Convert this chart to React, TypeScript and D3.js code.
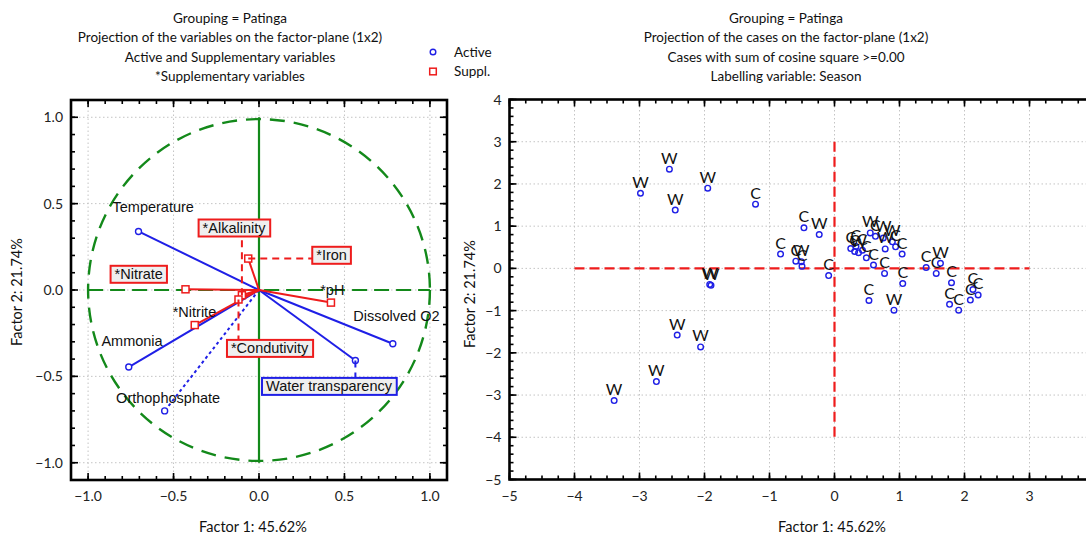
import { useEffect, useRef } from "react";
import * as d3 from "d3";

const W = 1086;
const H = 533;

// ---- variables plot (factor loadings) ----
const varNames = [
  "Temperature", "Dissolved O2", "Water transparency", "Ammonia", "Orthophosphate",
  "*Nitrate", "*Nitrite", "*pH", "*Iron", "*Alkalinity", "*Condutivity",
];
const varKind = ["active", "active", "active", "active", "active", "suppl", "suppl", "suppl", "suppl", "suppl", "suppl"];
const varF1 = [-0.705, 0.783, 0.564, -0.762, -0.552, -0.43, -0.376, 0.421, -0.063, -0.1, -0.12];
const varF2 = [0.339, -0.311, -0.408, -0.446, -0.7, 0.004, -0.203, -0.073, 0.182, -0.03, -0.055];
// where each label sits (data units: text start, baseline)
const labelF1 = [-0.857, 0.552, 0.041, -0.922, -0.836, -0.845, -0.505, 0.358, 0.335, -0.33, -0.164];
const labelF2 = [0.45, -0.181, -0.587, -0.326, -0.657, 0.062, -0.158, -0.03, 0.172, 0.33, -0.367];

// ---- cases plot (factor scores, labelled by season) ----
const caseF1 = [
  -2.985, -2.54, -2.45, -1.95, -1.215, -1.92, -1.9, -2.42, -2.06, -2.74, -3.39,
  -0.47, -0.235, -0.83, -0.595, -0.51, -0.5, -0.09,
  0.25, 0.31, 0.37, 0.43, 0.33, 0.49, 0.55, 0.63, 0.75, 0.6, 0.77, 0.89, 0.94, 1.04, 0.78,
  0.53, 1.05, 0.915, 1.41, 1.565, 1.63, 1.8, 1.77, 1.91, 2.09, 2.13, 2.21,
];
const caseF2 = [
  1.78, 2.35, 1.38, 1.9, 1.52, -0.38, -0.4, -1.58, -1.86, -2.68, -3.13,
  0.96, 0.8, 0.34, 0.17, 0.16, 0.05, -0.17,
  0.47, 0.4, 0.37, 0.43, 0.52, 0.25, 0.84, 0.76, 0.72, 0.08, -0.12, 0.63, 0.51, 0.34, 0.46,
  -0.76, -0.36, -0.99, 0.02, -0.12, 0.12, -0.34, -0.85, -0.99, -0.75, -0.5, -0.63,
];
const caseSeason = [
  "W", "W", "W", "W", "C", "W", "W", "W", "W", "W", "W",
  "C", "W", "C", "C", "W", "C", "C",
  "C", "C", "W", "C", "C", "C", "W", "C", "W", "C", "C", "W", "C", "C", "W",
  "C", "C", "W", "C", "C", "W", "C", "C", "C", "C", "C", "C",
];

const leftTicks = [-1.0, -0.5, 0.0, 0.5, 1.0];
const rightTicks = [-5, -4, -3, -2, -1, 0, 1, 2, 3, 4];

const leftTitle = [
  "Grouping = Patinga",
  "Projection of the variables on the factor-plane (1x2)",
  "Active and Supplementary variables",
  "*Supplementary variables",
];
const rightTitle = [
  "Grouping = Patinga",
  "Projection of the cases on the factor-plane (1x2)",
  "Cases with sum of cosine square >=0.00",
  "Labelling variable: Season",
];
const legendItems = ["Active", "Suppl."];

const BLUE = "#1f1fe6";
const RED = "#ee1c1c";
const GREEN = "#13891a";
const UI_FONT = "Lato, 'Open Sans', sans-serif";
const LABEL_FONT = "'Liberation Sans', Arial, sans-serif";

const boxed = new Set(["Water transparency", "*Nitrate", "*Iron", "*Alkalinity", "*Condutivity"]);
const leader = new Set(["Water transparency", "*Iron", "*Alkalinity", "*Condutivity"]);

type Sel = d3.Selection<SVGSVGElement, unknown, null, undefined>;

function grid(svg: Sel, x: d3.ScaleLinear<number, number>, y: d3.ScaleLinear<number, number>, xs: number[], ys: number[]) {
  const [x0, x1] = x.range();
  const [y0, y1] = y.range();
  const g = svg.append("g").attr("stroke", "#c4c4c4").attr("stroke-width", 1).attr("stroke-dasharray", "1.5 2.5");
  xs.forEach(v => g.append("line").attr("x1", x(v)).attr("x2", x(v)).attr("y1", y0).attr("y2", y1));
  ys.forEach(v => g.append("line").attr("y1", y(v)).attr("y2", y(v)).attr("x1", x0).attr("x2", x1));
}

function frame(
  svg: Sel, x: d3.ScaleLinear<number, number>, y: d3.ScaleLinear<number, number>,
  xMajor: number[], xMinor: number[], yMajor: number[], yMinor: number[], fmt: (n: number) => string
) {
  const [x0, x1] = x.range();
  const [y0, y1] = y.range();
  const g = svg.append("g").attr("stroke", "#000");
  const tick = (v: number, len: number) => {
    g.append("line").attr("x1", x(v)).attr("x2", x(v)).attr("y1", y0).attr("y2", y0 - len).attr("stroke-width", 1.6);
    g.append("line").attr("x1", x(v)).attr("x2", x(v)).attr("y1", y1).attr("y2", y1 + len).attr("stroke-width", 1.6);
  };
  const tickY = (v: number, len: number) => {
    g.append("line").attr("y1", y(v)).attr("y2", y(v)).attr("x1", x0).attr("x2", x0 + len).attr("stroke-width", 1.6);
    g.append("line").attr("y1", y(v)).attr("y2", y(v)).attr("x1", x1).attr("x2", x1 - len).attr("stroke-width", 1.6);
  };
  xMinor.forEach(v => tick(v, 4));
  xMajor.forEach(v => tick(v, 7));
  yMinor.forEach(v => tickY(v, 4));
  yMajor.forEach(v => tickY(v, 7));
  g.append("rect")
    .attr("x", x0).attr("y", y1).attr("width", x1 - x0).attr("height", y0 - y1)
    .attr("fill", "none").attr("stroke-width", 2.6);

  const t = svg.append("g").style("font-family", UI_FONT).style("font-size", "14px").attr("fill", "#222");
  xMajor.forEach(v =>
    t.append("text").attr("x", x(v)).attr("y", y0 + 21).attr("text-anchor", "middle").text(fmt(v))
  );
  yMajor.forEach(v =>
    t.append("text").attr("x", x0 - 8).attr("y", y(v) + 5).attr("text-anchor", "end").text(fmt(v))
  );
}

function titles(svg: Sel, lines: string[], cx: number) {
  const g = svg.append("g").style("font-family", UI_FONT).style("font-size", "13.5px").attr("fill", "#111");
  lines.forEach((s, i) =>
    g.append("text").attr("x", cx).attr("y", 23 + i * 19.3).attr("text-anchor", "middle").text(s)
  );
}

function axisTitles(svg: Sel, cx: number, cyX: number, yLabelX: number, cy: number) {
  const g = svg.append("g").style("font-family", UI_FONT).style("font-size", "14.5px").attr("fill", "#111");
  g.append("text").attr("x", cx).attr("y", cyX).attr("text-anchor", "middle").text("Factor 1: 45.62%");
  g.append("text")
    .attr("transform", `translate(${yLabelX},${cy}) rotate(-90)`)
    .attr("text-anchor", "middle")
    .text("Factor 2: 21.74%");
}

function drawVariables(svg: Sel) {
  const x = d3.scaleLinear().domain([-1.1, 1.1]).range([71, 447]);
  const y = d3.scaleLinear().domain([-1.1, 1.1]).range([480, 100]);

  grid(svg, x, y, leftTicks, leftTicks);

  // unit circle and axes
  svg.append("circle")
    .attr("cx", x(0)).attr("cy", y(0)).attr("r", x(1) - x(0))
    .attr("transform", `translate(0,0) scale(1,1)`)
    .attr("fill", "none").attr("stroke", GREEN).attr("stroke-width", 2.4)
    .attr("stroke-dasharray", "15 9");
  svg.append("line")
    .attr("x1", x(-1)).attr("x2", x(1)).attr("y1", y(0)).attr("y2", y(0))
    .attr("stroke", GREEN).attr("stroke-width", 2.2).attr("stroke-dasharray", "15 7");
  svg.append("line")
    .attr("x1", x(0)).attr("x2", x(0)).attr("y1", y(1)).attr("y2", y(-1))
    .attr("stroke", GREEN).attr("stroke-width", 2.2);

  const idx = d3.range(varNames.length);

  // vectors
  idx.forEach(i => {
    const col = varKind[i] === "active" ? BLUE : RED;
    svg.append("line")
      .attr("x1", x(0)).attr("y1", y(0)).attr("x2", x(varF1[i])).attr("y2", y(varF2[i]))
      .attr("stroke", col).attr("stroke-width", 2)
      .attr("stroke-dasharray", varNames[i] === "Orthophosphate" ? "3 3" : null);
  });

  // markers
  idx.forEach(i => {
    const px = x(varF1[i]);
    const py = y(varF2[i]);
    if (varKind[i] === "active") {
      svg.append("circle").attr("cx", px).attr("cy", py).attr("r", 3)
        .attr("fill", "#fff").attr("stroke", BLUE).attr("stroke-width", 1.4);
    } else {
      svg.append("rect").attr("x", px - 3.5).attr("y", py - 3.5).attr("width", 7).attr("height", 7)
        .attr("fill", "#fff").attr("stroke", RED).attr("stroke-width", 1.5);
    }
  });

  // labels
  const lg = svg.append("g");
  idx.forEach(i => {
    const name = varNames[i];
    const col = varKind[i] === "active" ? BLUE : RED;
    const grp = lg.append("g");
    const txt = grp.append("text")
      .attr("x", x(labelF1[i])).attr("y", y(labelF2[i]))
      .style("font-family", LABEL_FONT).style("font-size", "14.5px")
      .attr("fill", "#111").text(name);
    if (boxed.has(name)) {
      const bb = (txt.node() as SVGTextElement).getBBox();
      const bx0 = bb.x - 4, bx1 = bb.x + bb.width + 4;
      const by0 = bb.y - 0.5, by1 = bb.y + bb.height + 0.5;
      if (leader.has(name)) {
        const tx = x(varF1[i]), ty = y(varF2[i]);
        const ex = Math.max(bx0, Math.min(bx1, tx));
        const ey = Math.max(by0, Math.min(by1, ty));
        lg.insert("line", ":first-child")
          .attr("x1", tx).attr("y1", ty).attr("x2", ex).attr("y2", ey)
          .attr("stroke", col).attr("stroke-width", 2).attr("stroke-dasharray", "7 5");
      }
      grp.insert("rect", "text")
        .attr("x", bx0).attr("y", by0).attr("width", bx1 - bx0).attr("height", by1 - by0)
        .attr("fill", "#efefef").attr("stroke", col).attr("stroke-width", 2);
    }
  });

  frame(svg, x, y, leftTicks, d3.range(-11, 12).map(v => v / 10), leftTicks, d3.range(-11, 12).map(v => v / 10), d3.format(".1f"));
  titles(svg, leftTitle, 230);
  axisTitles(svg, 253, 532, 22, 292);

  // legend
  const leg = svg.append("g").style("font-family", UI_FONT).style("font-size", "13.5px").attr("fill", "#111");
  legendItems.forEach((s, i) => {
    const cy = 52 + i * 19.5;
    if (i === 0) {
      leg.append("circle").attr("cx", 433).attr("cy", cy).attr("r", 2.8)
        .attr("fill", "#fff").attr("stroke", BLUE).attr("stroke-width", 1.4);
    } else {
      leg.append("rect").attr("x", 429.7).attr("y", cy - 3.3).attr("width", 6.6).attr("height", 6.6)
        .attr("fill", "#fff").attr("stroke", RED).attr("stroke-width", 1.5);
    }
    leg.append("text").attr("x", 454).attr("y", cy + 4.5).text(s);
  });
}

function drawCases(svg: Sel) {
  const x = d3.scaleLinear().domain([-5, 4]).range([509.5, 1094.5]);
  const y = d3.scaleLinear().domain([-5, 4]).range([479.5, 99.5]);

  grid(svg, x, y, rightTicks, rightTicks);

  const rg = svg.append("g").attr("stroke", RED).attr("stroke-width", 2.2).attr("stroke-dasharray", "10 5");
  rg.append("line").attr("x1", x(-4)).attr("x2", x(3)).attr("y1", y(0)).attr("y2", y(0));
  rg.append("line").attr("x1", x(0)).attr("x2", x(0)).attr("y1", y(3)).attr("y2", y(-4));

  const idx = d3.range(caseF1.length);
  svg.append("g").selectAll("circle").data(idx).join("circle")
    .attr("cx", i => x(caseF1[i])).attr("cy", i => y(caseF2[i])).attr("r", 2.8)
    .attr("fill", "none").attr("stroke", BLUE).attr("stroke-width", 1.4);
  svg.append("g").style("font-family", UI_FONT).style("font-size", "16px").attr("fill", "#111")
    .selectAll("text").data(idx).join("text")
    .attr("x", i => x(caseF1[i])).attr("y", i => y(caseF2[i]) - 5.5)
    .attr("text-anchor", "middle").text(i => caseSeason[i]);

  frame(svg, x, y, rightTicks, d3.range(-5, 4.001, 0.25), rightTicks, d3.range(-5, 4.001, 0.2), d3.format("d"));
  titles(svg, rightTitle, 786);
  axisTitles(svg, 832, 532, 475, 294);
}

export default function App() {
  const svgRef = useRef<SVGSVGElement | null>(null);

  useEffect(() => {
    if (!svgRef.current) return;
    const svg = d3.select(svgRef.current);
    svg.selectAll("*").remove();
    drawVariables(svg);
    drawCases(svg);
  }, []);

  return (
    <svg
      ref={svgRef}
      width={W}
      height={H}
      style={{ position: "absolute", left: 0, top: 0, background: "#fff", overflow: "hidden" }}
    />
  );
}
